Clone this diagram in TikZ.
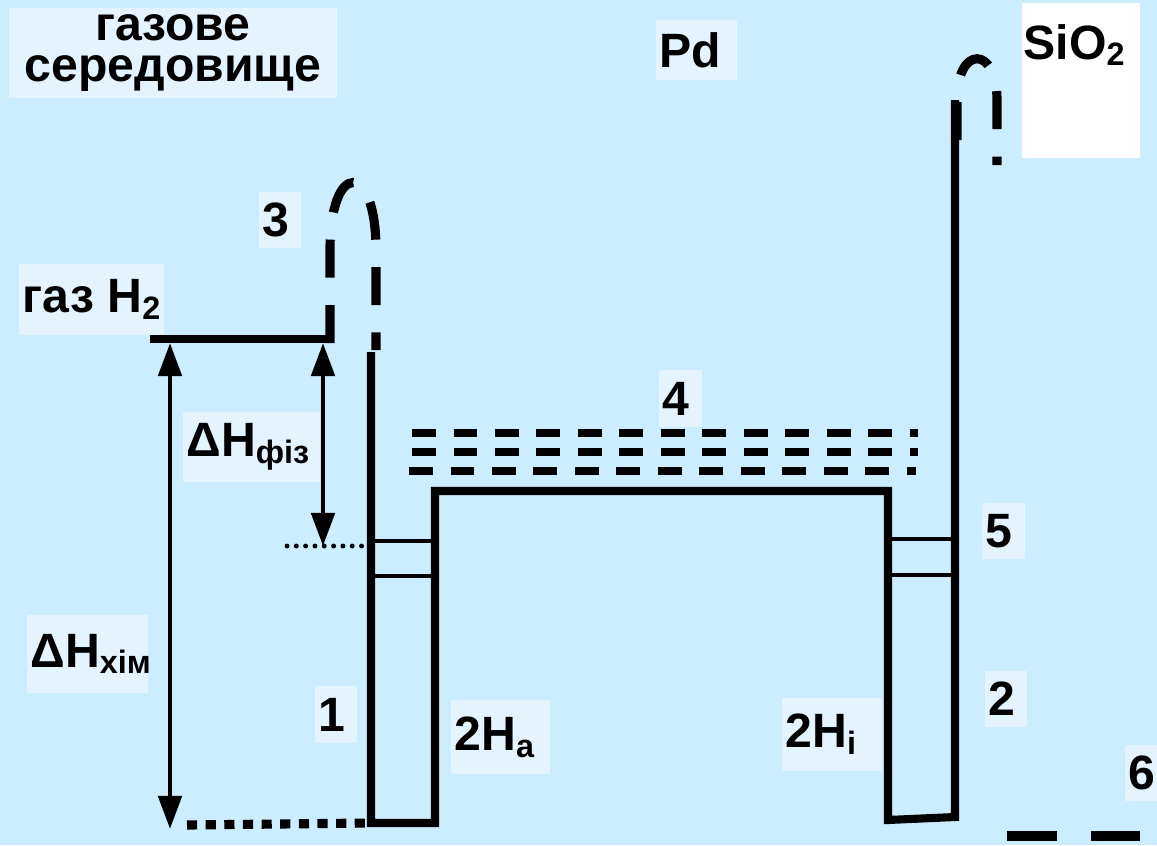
\documentclass[tikz,border=0pt]{standalone}
\usepackage{fontspec}
\setmainfont{Liberation Sans}
\usetikzlibrary{calc,arrows.meta}

\definecolor{bgblue}{RGB}{204,236,255}
\definecolor{tagblue}{RGB}{227,244,255}
\newcommand{\lowtext}[1]{\raisebox{-1.9pt}{\fontsize{9.2pt}{10pt}\selectfont #1}}

\tikzset{
  wall/.style={line width=2.3pt},
  rung/.style={line width=1.4pt},
  loopline/.style={line width=2.6pt, dash pattern=on 10.8pt off 7.8pt},
  levelline/.style={line width=2pt, dash pattern=on 6.8pt off 5pt},
  enth/.style={line width=1.4pt, {Triangle[length=3.3mm,width=2.3mm]}-{Triangle[length=3.3mm,width=2.3mm]}},
  tag/.style={fill=tagblue, inner xsep=1pt, inner ysep=0pt, align=left,
    font=\fontsize{13.7pt}{11.8pt}\selectfont\bfseries},
}

\begin{document}
\begin{tikzpicture}[x=0.01cm, y=-0.01cm]

% background
\fill [bgblue] (0,0) rectangle (1157,845);
\useasboundingbox (0,0) rectangle (1157,845);

% key points of the profile
\coordinate (gasL) at (150,339);
\coordinate (gasR) at (326,339);
\coordinate (w1top) at (371,352);
\coordinate (w1bl) at (371,823);
\coordinate (w1br) at (435,823);
\coordinate (platL) at (435,491);
\coordinate (platR) at (888,491);
\coordinate (w2bl) at (888,820);
\coordinate (w2br) at (955,817);
\coordinate (w2top) at (955,100);
\coordinate (phys) at (287,546);
\coordinate (chem) at (187,825);

% draw profile
\draw [wall] (gasL) -- (gasR);
\draw [wall] (w1top) -- (w1bl) -- (w1br) -- (platL) -- (platR) -- (w2bl) -- (w2br) -- (w2top);

% rungs in the wells
\draw [rung] (371,541) -- (435,541);
\draw [rung] (371,576) -- (435,576);
\draw [rung] (888,539) -- (955,539);
\draw [rung] (888,575) -- (955,575);

% dotted levels
\draw [line width=1.4pt, line cap=round, dash pattern=on 0pt off 2.65pt] (phys) -- (w1top |- phys);
\draw [line width=2.6pt, dash pattern=on 2.9pt off 2.4pt] (chem) -- (w1bl);

% enthalpy arrows
\coordinate (hchemT) at (170,343);
\coordinate (hchemB) at (170,829);
\coordinate (hphysT) at (323,343);
\coordinate (hphysB) at (323,546);
\draw [enth] (hchemT) -- (hchemB);
\draw [enth] (hphysT) -- (hphysB);

% dashed barriers
\draw [loopline] (330,343) -- (330,250) .. controls (330,160) and (376,160) .. (376,250) -- (376,350);
\draw [loopline] (957,140) -- (957,100) .. controls (957,45) and (997,45) .. (997,100) -- (997,165);

% band of levels
\draw [levelline] (412,433) -- (918,433);
\draw [levelline] (412,452) -- (918,452);
\draw [levelline] (409,471) -- (916,471);

% dashes in the oxide
\draw [line width=3pt, dash pattern=on 14.2pt off 9.7pt] (1007,836) -- (1140,836);

% add texts
\node [tag, align=center, text width=3.2cm, minimum width=3.28cm, minimum height=0.9cm] (medium) at (173,53) {газове\\середовище};
\node [tag, text width=0.74cm, minimum height=0.6cm] (pd) at (696.5,50) {Pd};
\node [fill=white, inner sep=0pt, minimum width=1.18cm, minimum height=1.55cm] (sio2box) at (1081,80.5) {};
\node [anchor=base west, inner sep=0pt, font=\fontsize{13.7pt}{11.8pt}\selectfont\bfseries] (sio2) at (1023,59) {SiO\lowtext{2}};
\node [tag, text width=0.35cm, minimum height=0.56cm] (n3) at (280,220) {3};
\node [tag, minimum width=1.39cm, minimum height=0.71cm] (gas) at (91.5,299.5) {газ H\lowtext{2}};
\node [tag, text width=1.30cm, minimum height=0.70cm] (dphys) at (251.5,447) {ΔH\lowtext{фіз}};
\node [tag, text width=0.36cm, minimum height=0.57cm] (n4) at (680.5,398.5) {4};
\node [tag, text width=0.36cm, minimum height=0.56cm] (n5) at (1003.5,531) {5};
\node [tag, text width=0.35cm, minimum height=0.56cm] (n2) at (1006,699) {2};
\node [tag, text width=0.25cm, minimum height=0.56cm] (n6) at (1141,773) {6};
\node [tag, text width=1.14cm, minimum height=0.78cm] (dchem) at (87.5,654) {ΔH\lowtext{хім}};
\node [tag, text width=0.35cm, minimum height=0.57cm] (n1) at (336,714.5) {1};
\node [tag, text width=0.92cm, minimum height=0.74cm] (ha) at (500.5,737) {2H\lowtext{a}};
\node [tag, text width=0.93cm, minimum height=0.73cm] (hi) at (832,734.5) {2H\lowtext{i}};

\end{tikzpicture}
\end{document}
